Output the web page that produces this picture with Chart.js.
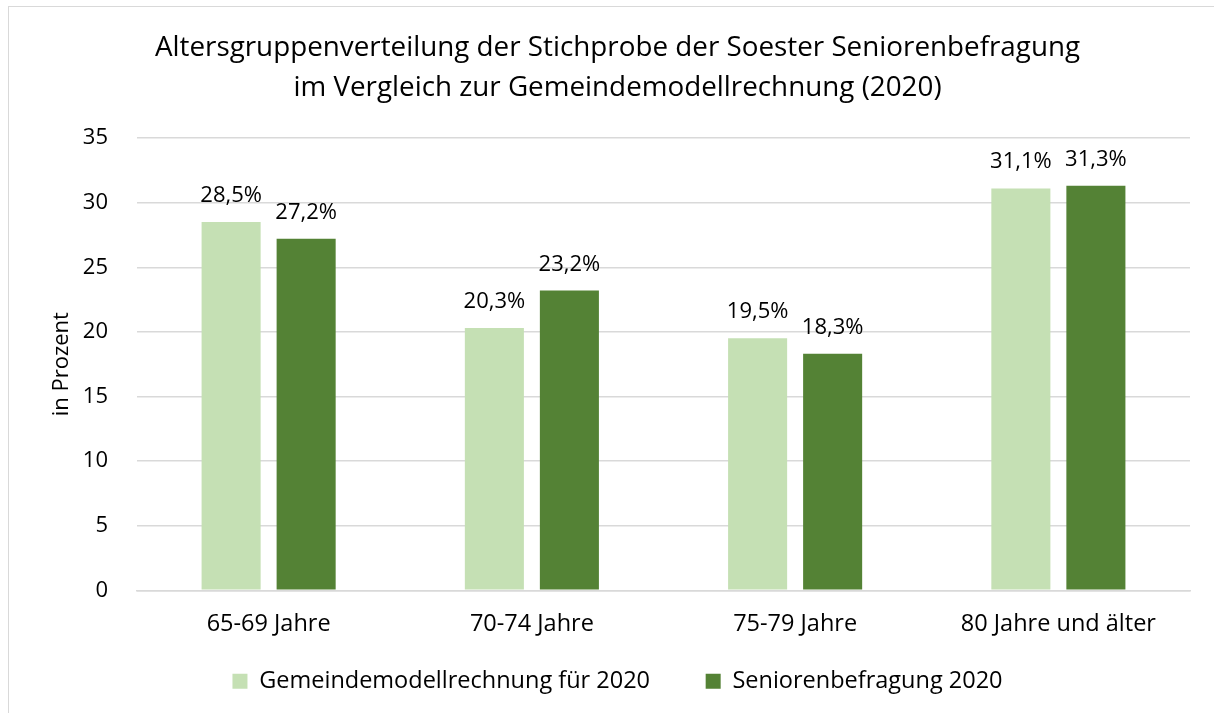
<!DOCTYPE html>
<html>
<head>
<meta charset="utf-8">
<script src="https://cdn.jsdelivr.net/npm/chart.js@4/dist/chart.umd.min.js"></script>
<style>
  html, body { margin: 0; padding: 0; background: #fff; }
  #frame { position: absolute; left: 8px; top: 6px; width: 1220px; height: 720px; border: 1px solid #d9d9d9; box-sizing: border-box; }
  #wrap { position: absolute; left: 0; top: 0; width: 1214px; height: 713px; }
</style>
</head>
<body>
<div id="frame"></div>
<div id="wrap"><canvas id="chart"></canvas></div>
<script>
const categories = ['65-69 Jahre', '70-74 Jahre', '75-79 Jahre', '80 Jahre und älter'];
const modellValues = [28.5, 20.3, 19.5, 31.1];
const befragungValues = [27.2, 23.2, 18.3, 31.3];
const seriesLabels = ['Gemeindemodellrechnung für 2020', 'Seniorenbefragung 2020'];
const titleLines = [
  'Altersgruppenverteilung der Stichprobe der Soester Seniorenbefragung',
  'im Vergleich zur Gemeindemodellrechnung (2020)'
];

const fontFamily = '"Open Sans", Lato, sans-serif';

// draws the percentage above each bar
const valueLabels = {
  id: 'valueLabels',
  afterDatasetsDraw(chart) {
    const ctx = chart.ctx;
    ctx.save();
    ctx.font = '22px ' + fontFamily;
    ctx.fillStyle = '#000';
    ctx.textAlign = 'center';
    ctx.textBaseline = 'alphabetic';
    chart.data.datasets.forEach((ds, i) => {
      chart.getDatasetMeta(i).data.forEach((bar, j) => {
        const txt = ds.data[j].toFixed(1).replace('.', ',') + '%';
        ctx.fillText(txt, bar.x, bar.y - 20);
      });
    });
    ctx.restore();
  }
};

new Chart(document.getElementById('chart'), {
  type: 'bar',
  data: {
    labels: categories,
    datasets: [
      {
        label: seriesLabels[0],
        data: modellValues,
        backgroundColor: '#C5E0B4'
      },
      {
        label: seriesLabels[1],
        data: befragungValues,
        backgroundColor: '#548235'
      }
    ]
  },
  options: {
    responsive: true,
    maintainAspectRatio: false,
    animation: false,
    layout: { padding: { left: 45, right: 24, top: 28, bottom: 10 } },
    datasets: {
      bar: { categoryPercentage: 0.57, barPercentage: 0.787 }
    },
    plugins: {
      title: {
        display: true,
        text: titleLines,
        color: '#000',
        font: { family: fontFamily, size: 27.8, weight: 'normal', lineHeight: 1.44 },
        padding: { top: 0, bottom: 30 }
      },
      legend: {
        position: 'bottom',
        labels: {
          color: '#000',
          font: { family: fontFamily, size: 23.5 },
          boxWidth: 15,
          boxHeight: 15,
          padding: 19,
          // trailing spaces widen the gap between the two entries
          generateLabels(chart) {
            const items = Chart.defaults.plugins.legend.labels.generateLabels(chart);
            items[0].text = items[0].text + '      ';
            return items;
          }
        }
      },
      tooltip: { enabled: false }
    },
    scales: {
      x: {
        grid: { display: false },
        border: { color: '#d9d9d9', width: 1.5 },
        ticks: { color: '#000', font: { family: fontFamily, size: 23.5 }, padding: 12 }
      },
      y: {
        min: 0,
        max: 35,
        afterFit(scale) { scale.width = 92; },
        ticks: { stepSize: 5, color: '#000', font: { family: fontFamily, size: 22 }, padding: 29 },
        grid: { color: '#d9d9d9', lineWidth: 1.5, drawTicks: false },
        border: { display: false },
        title: {
          display: true,
          text: 'in Prozent',
          color: '#000',
          font: { family: fontFamily, size: 22 },
          padding: { top: 4, bottom: 0 }
        }
      }
    }
  },
  plugins: [valueLabels]
});
</script>
</body>
</html>
